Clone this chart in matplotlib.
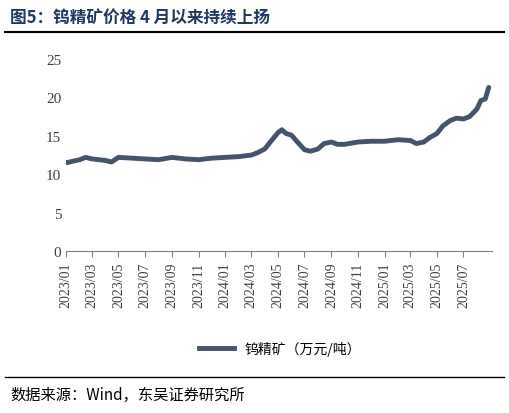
import pandas as pd
import matplotlib.pyplot as plt
from matplotlib.lines import Line2D

plt.rcParams['font.family'] = ['Noto Sans CJK SC', 'DejaVu Sans']

dates = ['2023-01-01', '2023-02-01', '2023-02-15', '2023-03-01', '2023-04-01', '2023-04-15',
         '2023-05-01', '2023-06-01', '2023-07-01', '2023-08-01', '2023-09-01', '2023-10-01',
         '2023-11-01', '2023-12-01', '2024-01-01', '2024-02-01', '2024-03-01', '2024-03-15',
         '2024-04-01', '2024-04-15', '2024-05-01', '2024-05-10', '2024-05-20', '2024-06-01',
         '2024-06-15', '2024-07-01', '2024-07-15', '2024-08-01', '2024-08-15', '2024-09-01',
         '2024-09-15', '2024-10-01', '2024-11-01', '2024-12-01', '2025-01-01', '2025-02-01',
         '2025-03-01', '2025-03-15', '2025-04-01', '2025-04-15', '2025-05-01', '2025-05-15',
         '2025-06-01', '2025-06-15', '2025-07-01', '2025-07-15', '2025-08-01', '2025-08-10',
         '2025-08-20', '2025-08-28']
prices = [11.5, 11.9, 12.2, 12.0, 11.8, 11.6,
          12.2, 12.1, 12.0, 11.9, 12.2, 12.0,
          11.9, 12.1, 12.2, 12.3, 12.5, 12.8,
          13.3, 14.3, 15.4, 15.8, 15.3, 15.1,
          14.2, 13.2, 13.0, 13.3, 14.0, 14.2,
          13.9, 13.9, 14.2, 14.3, 14.3, 14.5,
          14.4, 14.0, 14.2, 14.8, 15.3, 16.3,
          17.0, 17.3, 17.2, 17.5, 18.5, 19.6,
          19.8, 21.3]
tick_labels = ['2023/01', '2023/03', '2023/05', '2023/07', '2023/09', '2023/11',
               '2024/01', '2024/03', '2024/05', '2024/07', '2024/09', '2024/11',
               '2025/01', '2025/03', '2025/05', '2025/07']

x = pd.to_datetime(dates)
ticks = pd.to_datetime([t.replace('/', '-') + '-01' for t in tick_labels])

fig = plt.figure(figsize=(5.09, 4.14), dpi=100)
ax = fig.add_axes([0.13, 0.391, 0.837, 0.464])
color = '#44546A'
ax.plot(x, prices, color=color, lw=3.5, solid_capstyle='round')
ax.set_ylim(0, 25)
ax.set_yticks(range(0, 26, 5))
ax.set_xlim(pd.Timestamp('2023-01-01'), pd.Timestamp('2025-09-05'))
ax.set_xticks(ticks)
ax.set_xticklabels(tick_labels, rotation=90, fontsize=10, color='#404040', family='Liberation Serif')
for lab in ax.get_yticklabels():
    lab.set_family('Liberation Serif')
ax.tick_params(axis='y', labelsize=11, colors='#404040', length=0)
ax.tick_params(axis='x', length=4, color='#808080')
for s in ['top', 'right', 'left']:
    ax.spines[s].set_visible(False)
ax.spines['bottom'].set_color('#808080')

fig.text(0.02, 0.955, '图5：钨精矿价格 4 月以来持续上扬', fontsize=12, fontweight='bold',
         color='#1F3864', va='center')
fig.add_artist(Line2D([0.01, 0.99], [0.92, 0.92], color='black', lw=1.5))
fig.add_artist(Line2D([0.01, 0.99], [0.087, 0.087], color='black', lw=1))
fig.text(0.02, 0.045, '数据来源：Wind，东吴证券研究所', fontsize=11, va='center')

fig.legend([Line2D([], [], color=color, lw=3.5)], ['钨精矿（万元/吨）'],
           loc='center', bbox_to_anchor=(0.55, 0.155), frameon=False, fontsize=10,
           handlelength=2.5)
fig.savefig('out.png', dpi=100)
